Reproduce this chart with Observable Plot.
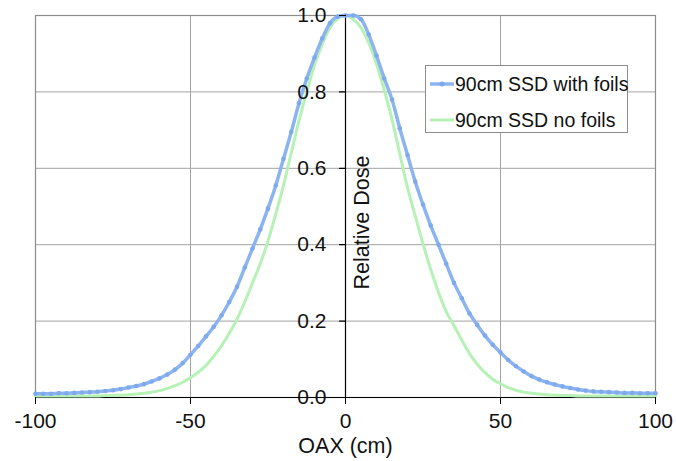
<!DOCTYPE html>
<html>
<head>
<meta charset="utf-8">
<script src="https://cdn.jsdelivr.net/npm/d3@7"></script>
<script src="https://cdn.jsdelivr.net/npm/@observablehq/plot@0.6"></script>
<style>
  html, body { margin: 0; padding: 0; background: #fff; }
  #wrap { position: relative; width: 676px; height: 461px; font-family: "Liberation Sans", Arial, sans-serif; }
  #legend { position: absolute; left: 425px; top: 65px; width: 203px; height: 68px; border: 1px solid #8c8c8c; background: #fff; box-sizing: border-box; }
  .lg-row { position: absolute; left: 4px; height: 24px; display: flex; align-items: center; font-size: 19.5px; color: #111; white-space: nowrap; }
  .lg-row svg { display: block; margin-right: 1px; }
</style>
</head>
<body>
<div id="wrap"></div>
<script>
// ---- data ----
const seriesNames = ["90cm SSD with foils", "90cm SSD no foils"];
const xLabel = "OAX (cm)";
const yLabel = "Relative Dose";
const xTicks = [-100, -50, 0, 50, 100];
const xGrid = [-50, 50];
const yTicks = [0, 0.2, 0.4, 0.6, 0.8, 1.0];
const yGrid = [0.2, 0.4, 0.6, 0.8];

const oax = [
  -100, -97.5, -95, -92.5, -90, -87.5, -85, -82.5, -80, -77.5,
  -75, -72.5, -70, -67.5, -65, -62.5, -60, -57.5, -55, -52.5,
  -50, -47.5, -45, -42.5, -40, -37.5, -35, -32.5, -30, -27.5,
  -25, -22.5, -20, -17.5, -15, -12.5, -10, -7.5, -5, -2.5,
  0,
  2.5, 5, 7.5, 10, 12.5, 15, 17.5, 20, 22.5, 25,
  27.5, 30, 32.5, 35, 37.5, 40, 42.5, 45, 47.5, 50,
  52.5, 55, 57.5, 60, 62.5, 65, 67.5, 70, 72.5, 75,
  77.5, 80, 82.5, 85, 87.5, 90, 92.5, 95, 97.5, 100
];

const withFoils = [
  0.010, 0.010, 0.010, 0.011, 0.011, 0.012, 0.013, 0.014, 0.015, 0.017,
  0.019, 0.022, 0.026, 0.030, 0.035, 0.042, 0.050, 0.060, 0.073, 0.090,
  0.112, 0.135, 0.160, 0.185, 0.215, 0.250, 0.290, 0.340, 0.390, 0.440,
  0.495, 0.555, 0.625, 0.695, 0.770, 0.835, 0.890, 0.940, 0.980, 0.997,
  1.000,
  1.000, 0.990, 0.950, 0.895, 0.835, 0.780, 0.705, 0.635, 0.565, 0.505,
  0.450, 0.400, 0.350, 0.300, 0.260, 0.220, 0.190, 0.162, 0.138, 0.118,
  0.098, 0.082, 0.068, 0.056, 0.047, 0.040, 0.034, 0.029, 0.025, 0.021,
  0.018, 0.016, 0.015, 0.014, 0.013, 0.012, 0.012, 0.011, 0.011, 0.011
];

const noFoils = [
  0.004, 0.004, 0.004, 0.004, 0.004, 0.004, 0.004, 0.004, 0.004, 0.005,
  0.005, 0.006, 0.007, 0.009, 0.011, 0.014, 0.018, 0.024, 0.031, 0.040,
  0.052, 0.066, 0.084, 0.108, 0.135, 0.168, 0.205, 0.250, 0.300, 0.350,
  0.410, 0.480, 0.555, 0.640, 0.725, 0.800, 0.870, 0.925, 0.968, 0.992,
  1.000,
  0.990, 0.968, 0.928, 0.873, 0.805, 0.728, 0.638, 0.550, 0.475, 0.402,
  0.335, 0.275, 0.225, 0.188, 0.150, 0.115, 0.087, 0.065, 0.048, 0.036,
  0.026, 0.019, 0.014, 0.011, 0.009, 0.007, 0.006, 0.005, 0.005, 0.004,
  0.004, 0.004, 0.004, 0.004, 0.004, 0.004, 0.004, 0.004, 0.004, 0.004
];

// ---- styles ----
const blue = "#8cb4f0";
const blueDot = "#7eaaec";
const green = "#b6f1b6";
const gridColor = "#a3a3a3";
const frameColor = "#8c8c8c";

const foilsData = oax.map((x, i) => ({x, y: withFoils[i]}));
const noFoilsData = oax.map((x, i) => ({x, y: noFoils[i]}));

const tickShape = { draw(context, l) { context.moveTo(0, 0); context.lineTo(0, -l); } };

const chart = Plot.plot({
  width: 676,
  height: 461,
  marginLeft: 35,
  marginRight: 21,
  marginTop: 15,
  marginBottom: 64,
  style: { fontFamily: "'Liberation Sans', Arial, sans-serif", fontSize: "21px", background: "#fff", color: "#111", overflow: "visible" },
  x: { domain: [-100, 100] },
  y: { domain: [0, 1] },
  marks: [
    Plot.gridX(xGrid, { stroke: gridColor, strokeOpacity: 1, strokeWidth: 1 }),
    Plot.gridY(yGrid, { stroke: gridColor, strokeOpacity: 1, strokeWidth: 1 }),
    Plot.frame({ stroke: frameColor, strokeWidth: 1.2 }),
    Plot.ruleX([0], { stroke: "#000", strokeWidth: 1.2 }),
    Plot.ruleY([0], { stroke: "#000", strokeWidth: 1.2 }),
    Plot.line(noFoilsData, { x: "x", y: "y", stroke: green, strokeWidth: 3, curve: "monotone-x" }),
    Plot.line(foilsData, { x: "x", y: "y", stroke: blue, strokeWidth: 3.5, curve: "monotone-x" }),
    Plot.dot(foilsData, { x: "x", y: "y", r: 2.3, fill: blueDot }),
    Plot.vector(yTicks, { x: 0, y: d => d, length: 6, rotate: -90, anchor: "start", shape: tickShape, stroke: "#000", strokeWidth: 1.2 }),
    Plot.text(yTicks, { x: 0, y: d => d, text: d => d.toFixed(1), dx: -19, textAnchor: "end", fontSize: 21, fill: "#111" }),
    Plot.axisX(xTicks, { tickSize: 7, tickPadding: 9, fontSize: 21, label: null, tickFormat: d => String(d), stroke: "#000", fill: "#111" }),
    Plot.axisY({ ticks: [], label: null, tickSize: 0 }),
    Plot.text([yLabel], { x: 0, frameAnchor: "middle", rotate: -90, dx: 17, dy: 16, fontSize: 21.5, lineAnchor: "middle", fill: "#111" }),
    Plot.text([xLabel], { frameAnchor: "bottom", dy: 48.5, fontSize: 21.5, lineAnchor: "middle", fill: "#111" })
  ]
});

const wrap = document.getElementById("wrap");
wrap.appendChild(chart);

// legend
const legend = document.createElement("div");
legend.id = "legend";
const entries = [
  { name: seriesNames[0], color: blue, dot: true, top: 6 },
  { name: seriesNames[1], color: green, dot: false, top: 42 }
];
for (const e of entries) {
  const row = document.createElement("div");
  row.className = "lg-row";
  row.style.top = e.top + "px";
  row.innerHTML = `<svg width="24" height="10"><line x1="0" y1="5" x2="24" y2="5" stroke="${e.color}" stroke-width="${e.dot ? 3.5 : 3}"/>${e.dot ? `<circle cx="12" cy="5" r="2.5" fill="${blueDot}"/>` : ""}</svg><span>${e.name}</span>`;
  legend.appendChild(row);
}
wrap.appendChild(legend);
</script>
</body>
</html>
